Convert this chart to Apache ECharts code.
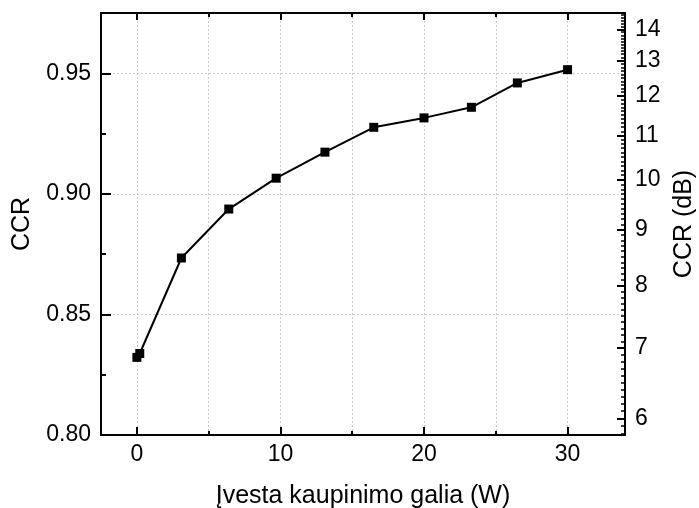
<!DOCTYPE html>
<html>
<head>
<meta charset="utf-8">
<script src="https://cdn.jsdelivr.net/npm/echarts@6/dist/echarts.min.js"></script>
<style>
html,body{margin:0;padding:0;background:#fff;}
#chart{width:699px;height:508px;}
</style>
</head>
<body>
<div id="chart"></div>
<script>
// ---- data ----
var powerW = [0, 0.2, 3.1, 6.4, 9.7, 13.1, 16.5, 20, 23.3, 26.5, 30];
var ccrValues = [0.8322, 0.8338, 0.8734, 0.8937, 0.9065, 0.9173, 0.9276, 0.9315, 0.9359, 0.9460, 0.9515];
var xMajorTicks = [0, 10, 20, 30];
var xMinorTicks = [5, 15, 25];
var yMajorTicks = [0.80, 0.85, 0.90, 0.95];
var yMinorTicks = [0.825, 0.875, 0.925];
var dbMajorTicks = [6, 7, 8, 9, 10, 11, 12, 13, 14];
var xTitle = 'Įvesta kaupinimo galia (W)';
var yTitle = 'CCR';
var y2Title = 'CCR (dB)';

// right-axis scale: position of a dB value on the CCR axis
var A = 1.075, B = 0.535;
function dbToCcr(d){ return A - B * Math.pow(10, -d / 20); }
function ccrToDb(v){ return -20 * Math.log10((A - v) / B); }
var dbMinorTicks = [];
for (var k = 58; k <= 145; k++) { if (k % 10 !== 0) dbMinorTicks.push(dbToCcr(k / 10)); }
var dbMajorPos = dbMajorTicks.map(dbToCcr);

var FONT = 'Liberation Sans';
var TICK_FS = 23, TITLE_FS = 25;
var chart = echarts.init(document.getElementById('chart'), null, {renderer: 'canvas'});

var xAll = xMinorTicks.concat(xMajorTicks).sort(function(a,b){return a-b;});
var baseX = {type: 'value', min: -2.5, max: 34, gridIndex: 0};
var baseY = {type: 'value', min: 0.80, max: 0.975, gridIndex: 0};

var option = {
  backgroundColor: '#ffffff',
  animation: false,
  grid: {left: 101, right: 74, top: 13, bottom: 73, containLabel: false, outerBoundsMode: 'none'},
  xAxis: [
    Object.assign({}, baseX, {
      position: 'bottom',
      name: xTitle, nameLocation: 'middle', nameGap: 49,
      nameTextStyle: {fontFamily: FONT, fontSize: TITLE_FS, color: '#000'},
      axisLine: {show: true, onZero: false, lineStyle: {color: '#000', width: 2}},
      axisTick: {show: true, inside: true, length: 8, customValues: xMajorTicks, lineStyle: {color: '#000', width: 2}},
      axisLabel: {show: true, margin: 8, customValues: xMajorTicks, fontFamily: FONT, fontSize: TICK_FS, color: '#000'},
      splitLine: {show: false}
    }),
    Object.assign({}, baseX, {
      position: 'top',
      axisLine: {show: true, onZero: false, lineStyle: {color: '#000', width: 2}},
      axisTick: {show: true, inside: true, length: 7, customValues: xMajorTicks, lineStyle: {color: '#000', width: 2}},
      axisLabel: {show: false},
      splitLine: {show: false}
    }),
    Object.assign({}, baseX, {
      position: 'bottom',
      axisLine: {show: false, onZero: false},
      axisTick: {show: true, inside: true, length: 4, customValues: xAll, lineStyle: {color: '#000', width: 2}},
      axisLabel: {show: false},
      splitLine: {show: true, lineStyle: {color: '#cccccc', width: 1, type: [2, 2]}}
    }),
    Object.assign({}, baseX, {
      position: 'top',
      axisLine: {show: false, onZero: false},
      axisTick: {show: true, inside: true, length: 4, customValues: xMinorTicks, lineStyle: {color: '#000', width: 2}},
      axisLabel: {show: false},
      splitLine: {show: false}
    })
  ],
  yAxis: [
    Object.assign({}, baseY, {
      position: 'left',
      name: yTitle, nameLocation: 'middle', nameGap: 66, nameRotate: 90,
      nameTextStyle: {fontFamily: FONT, fontSize: TITLE_FS, color: '#000'},
      axisLine: {show: true, onZero: false, lineStyle: {color: '#000', width: 2}},
      axisTick: {show: true, inside: true, length: 10, customValues: yMajorTicks, lineStyle: {color: '#000', width: 2}},
      axisLabel: {show: true, margin: 10, customValues: yMajorTicks, fontFamily: FONT, fontSize: TICK_FS, color: '#000',
        formatter: function(v){ return Number(v).toFixed(2); }},
      splitLine: {show: true, lineStyle: {color: '#cccccc', width: 1, type: [2, 2]}}
    }),
    Object.assign({}, baseY, {
      position: 'left',
      axisLine: {show: false, onZero: false},
      axisTick: {show: true, inside: true, length: 5, customValues: yMinorTicks, lineStyle: {color: '#000', width: 2}},
      axisLabel: {show: false},
      splitLine: {show: false}
    }),
    Object.assign({}, baseY, {
      position: 'right',
      name: y2Title, nameLocation: 'middle', nameGap: 47, nameRotate: 90,
      nameTextStyle: {fontFamily: FONT, fontSize: TITLE_FS, color: '#000'},
      axisLine: {show: true, onZero: false, lineStyle: {color: '#000', width: 2}},
      axisTick: {show: true, inside: true, length: 8, customValues: dbMajorPos, lineStyle: {color: '#000', width: 2}},
      axisLabel: {show: true, margin: 10, customValues: dbMajorPos, fontFamily: FONT, fontSize: TICK_FS, color: '#000',
        formatter: function(v){ return String(Math.round(ccrToDb(v))); }},
      splitLine: {show: false}
    }),
    Object.assign({}, baseY, {
      position: 'right',
      axisLine: {show: false, onZero: false},
      axisTick: {show: true, inside: true, length: 4, customValues: dbMinorTicks, lineStyle: {color: '#000', width: 1.5}},
      axisLabel: {show: false},
      splitLine: {show: false}
    })
  ],
  series: [{
    type: 'line',
    xAxisIndex: 0,
    yAxisIndex: 0,
    data: powerW.map(function(x, i){ return [x, ccrValues[i]]; }),
    symbol: 'rect',
    symbolSize: 9,
    showAllSymbol: true,
    lineStyle: {color: '#000', width: 2},
    itemStyle: {color: '#000'},
    z: 5
  }]
};
chart.setOption(option);
</script>
</body>
</html>
